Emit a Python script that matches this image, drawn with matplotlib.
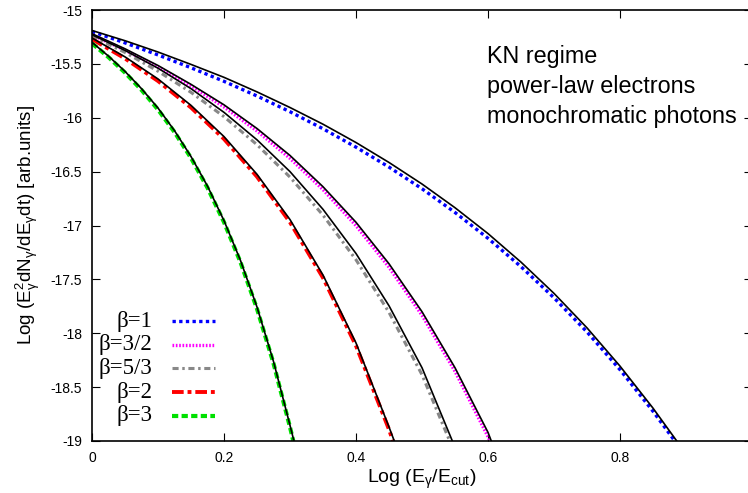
import numpy as np
import matplotlib
matplotlib.use('Agg')
from matplotlib import pyplot as plt

plt.rcParams['font.family'] = ['Liberation Sans', 'DejaVu Sans']
plt.rcParams['mathtext.fontset'] = 'custom'
plt.rcParams['mathtext.rm'] = 'Liberation Sans'
plt.rcParams['mathtext.it'] = 'Liberation Sans'

# numerical curves (coloured) and analytic curves (black)
x_b1 = [0, 0.05, 0.1, 0.15, 0.2, 0.25, 0.3, 0.35, 0.4, 0.45, 0.5, 0.55, 0.6, 0.65, 0.7, 0.75, 0.8, 0.85, 0.883]
y_b1 = [-15.20, -15.305, -15.417, -15.536, -15.662, -15.798, -15.944, -16.102, -16.273, -16.458,
        -16.659, -16.879, -17.119, -17.382, -17.671, -17.988, -18.338, -18.724, -19.0]
xk_b1 = [0, 0.05, 0.1, 0.15, 0.2, 0.25, 0.3, 0.35, 0.4, 0.45, 0.5, 0.55, 0.6, 0.65, 0.7, 0.75, 0.8, 0.85, 0.886]
yk_b1 = [-15.19, -15.285, -15.39, -15.505, -15.625, -15.76, -15.905, -16.06, -16.23, -16.415,
         -16.615, -16.835, -17.075, -17.34, -17.63, -17.95, -18.305, -18.695, -19.0]

x_b32 = [0, 0.05, 0.1, 0.15, 0.2, 0.25, 0.3, 0.35, 0.4, 0.45, 0.5, 0.55, 0.6, 0.603]
y_b32 = [-15.23, -15.372, -15.529, -15.704, -15.900, -16.123, -16.377, -16.667, -17.001, -17.387,
         -17.833, -18.353, -18.960, -19.0]
xk_b32 = [0, 0.05, 0.1, 0.15, 0.2, 0.25, 0.3, 0.35, 0.4, 0.45, 0.5, 0.55, 0.6, 0.605]
yk_b32 = [-15.22, -15.36, -15.515, -15.69, -15.88, -16.10, -16.35, -16.64, -16.97, -17.355,
          -17.80, -18.32, -18.92, -19.0]

x_b53 = [0, 0.05, 0.1, 0.15, 0.2, 0.25, 0.3, 0.35, 0.4, 0.45, 0.5, 0.542]
y_b53 = [-15.24, -15.394, -15.568, -15.764, -15.990, -16.250, -16.551, -16.904, -17.318, -17.806,
         -18.385, -19.0]
xk_b53 = [0, 0.05, 0.1, 0.15, 0.2, 0.25, 0.3, 0.35, 0.4, 0.45, 0.5, 0.546]
yk_b53 = [-15.23, -15.375, -15.54, -15.73, -15.95, -16.205, -16.50, -16.85, -17.26, -17.745,
          -18.32, -19.0]

x_b2 = [0, 0.05, 0.1, 0.15, 0.2, 0.25, 0.3, 0.35, 0.4, 0.45, 0.456]
y_b2 = [-15.27, -15.45, -15.659, -15.905, -16.197, -16.547, -16.97, -17.485, -18.116, -18.893, -19.0]
xk_b2 = [0, 0.05, 0.1, 0.15, 0.2, 0.25, 0.3, 0.35, 0.4, 0.45, 0.458]
yk_b2 = [-15.26, -15.435, -15.64, -15.885, -16.175, -16.525, -16.945, -17.46, -18.09, -18.87, -19.0]

x_b3 = [0, 0.025, 0.05, 0.075, 0.1, 0.125, 0.15, 0.175, 0.2, 0.225, 0.25, 0.275, 0.3, 0.305]
y_b3 = [-15.31, -15.438, -15.581, -15.742, -15.924, -16.133, -16.373, -16.650, -16.969, -17.341,
        -17.773, -18.279, -18.872, -19.0]
xk_b3 = [0, 0.025, 0.05, 0.075, 0.1, 0.125, 0.15, 0.175, 0.2, 0.225, 0.25, 0.275, 0.3, 0.306]
yk_b3 = [-15.30, -15.428, -15.57, -15.73, -15.91, -16.12, -16.36, -16.635, -16.955, -17.325,
         -17.757, -18.262, -18.855, -19.0]

labels = ['β=1', 'β=3/2', 'β=5/3', 'β=2', 'β=3']
colors = ['#0000ff', '#ff00ff', '#888888', '#ff0000', '#00e000']
dashes = [(1, 1), (0.5, 0.5), (2, 1.2, 0.8, 1.2), (3, 1, 1, 1), (1.5, 0.8)]
widths = [2.4, 2.4, 2.2, 2.8, 3.0]

xs = [x_b1, x_b32, x_b53, x_b2, x_b3]
ys = [y_b1, y_b32, y_b53, y_b2, y_b3]
xks = [xk_b1, xk_b32, xk_b53, xk_b2, xk_b3]
yks = [yk_b1, yk_b32, yk_b53, yk_b2, yk_b3]

fig = plt.figure(figsize=(7.48, 4.93), dpi=100)
ax = fig.add_axes([92/748, 1 - 441/493, 660/748, 431/493])

for i in range(5):
    ax.plot(xs[i], ys[i], color=colors[i], lw=widths[i], dashes=dashes[i])
for i in range(5):
    ax.plot(xks[i], yks[i], color='black', lw=1.2)

ax.set_xlim(0, 1.0)
ax.set_ylim(-19, -15)
ax.set_xticks([0, 0.2, 0.4, 0.6, 0.8])
ax.set_xticklabels(['0', '0.2', '0.4', '0.6', '0.8'])
ax.set_yticks(np.arange(-19, -14.9, 0.5))
ax.set_yticklabels(['-19', '-18.5', '-18', '-17.5', '-17', '-16.5', '-16', '-15.5', '-15'])
ax.tick_params(direction='in', length=6, width=0.8, top=True, right=True, labelsize=10, pad=7)
for s in ax.spines.values():
    s.set_linewidth(1.2)

ax.set_xlabel(r'Log (E$_{\gamma}$/E$_{cut}$)', fontsize=14, labelpad=2)
ax.set_ylabel(r'Log (E$^{2}_{\gamma}$dN$_{\gamma}$/dE$_{\gamma}$dt) [arb.units]', fontsize=13.5, labelpad=6)

# legend drawn by hand (gnuplot style: right-aligned text, sample on the right)
for i in range(5):
    yy = 1 - (321 - 10 + i * 23.7) / 431
    ax.text(60/660, yy, labels[i], transform=ax.transAxes, ha='right', va='center',
            fontsize=16.5, family=['Liberation Serif', 'DejaVu Serif'])
    ax.plot([80/660, 123/660], [yy, yy], transform=ax.transAxes, color=colors[i],
            lw=widths[i], dashes=dashes[i])

for j, t in enumerate(['KN regime', 'power-law electrons', 'monochromatic photons']):
    ax.text(395/660, 1 - (57 - 10 + j * 29.5) / 431, t, transform=ax.transAxes,
            ha='left', va='center', fontsize=16.8)

fig.savefig('out.png', dpi=100)
